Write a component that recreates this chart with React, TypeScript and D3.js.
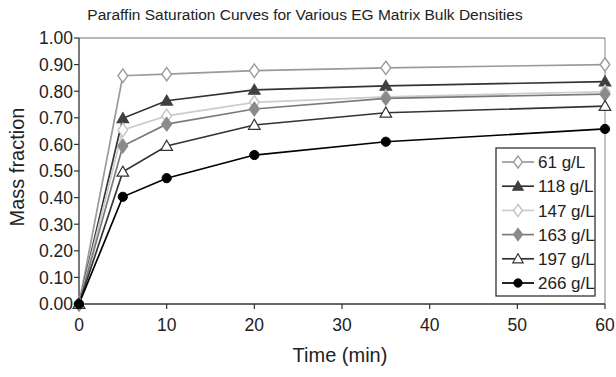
import React from "react";
import * as d3 from "d3";

const times = [0, 5, 10, 20, 35, 60];
const s61 = [0, 0.858, 0.864, 0.877, 0.888, 0.9];
const s118 = [0, 0.698, 0.764, 0.805, 0.82, 0.836];
const s147 = [0, 0.654, 0.707, 0.758, 0.779, 0.798];
const s163 = [0, 0.594, 0.676, 0.733, 0.773, 0.789];
const s197 = [0, 0.497, 0.594, 0.673, 0.719, 0.744];
const s266 = [0, 0.403, 0.473, 0.56, 0.61, 0.658];
const seriesNames = ["61 g/L", "118 g/L", "147 g/L", "163 g/L", "197 g/L", "266 g/L"];
const xTicks = [0, 10, 20, 30, 40, 50, 60];
const yTicks = [0, 0.1, 0.2, 0.3, 0.4, 0.5, 0.6, 0.7, 0.8, 0.9, 1.0];

type Style = { line: string; marker: "diamond" | "triangle" | "circle"; fill: string; stroke: string };
const styles: Style[] = [
  { line: "#9a9a9a", marker: "diamond", fill: "#ffffff", stroke: "#9a9a9a" },
  { line: "#333333", marker: "triangle", fill: "#404040", stroke: "#404040" },
  { line: "#cccccc", marker: "diamond", fill: "#ffffff", stroke: "#c4c4c4" },
  { line: "#7a7a7a", marker: "diamond", fill: "#8a8a8a", stroke: "#8a8a8a" },
  { line: "#333333", marker: "triangle", fill: "#ffffff", stroke: "#333333" },
  { line: "#000000", marker: "circle", fill: "#000000", stroke: "#000000" },
];

const W = 616, H = 377;
const L = 79, R = 605, T = 38, B = 304;
const FONT = "Liberation Sans, Arial, Helvetica, sans-serif";

function Marker({ kind, x, y, fill, stroke, scale = 1 }: { kind: string; x: number; y: number; fill: string; stroke: string; scale?: number }) {
  if (kind === "circle") {
    return <circle cx={x} cy={y} r={4.6 * scale} fill={fill} stroke={stroke} strokeWidth={1} />;
  }
  const sym = kind === "diamond" ? d3.symbolDiamond : d3.symbolTriangle;
  const size = (kind === "diamond" ? 52 : 58) * scale * scale;
  const path = d3.symbol().type(sym).size(size)() || "";
  const sx = kind === "diamond" ? 1.25 : 1;
  return (
    <path
      d={path}
      transform={`translate(${x},${y + (kind === "triangle" ? 1 : 0)}) scale(${sx},1)`}
      fill={fill}
      stroke={stroke}
      strokeWidth={1.2}
    />
  );
}

export default function App() {
  const x = d3.scaleLinear().domain([0, 60]).range([L, R]);
  const y = d3.scaleLinear().domain([0, 1]).range([B, T]);
  const data = [s61, s118, s147, s163, s197, s266];
  const line = d3
    .line<number>()
    .x((_, i) => x(times[i]))
    .y((d) => y(d));

  const legendX = 496, legendY = 148, legendW = 99, legendH = 148;
  const entryY0 = 162, entryStep = 24.2;

  return (
    <svg width={W} height={H} style={{ position: "absolute", left: 0, top: 0, background: "#fff" }} fontFamily={FONT}>
      <rect x={0} y={0} width={W} height={H} fill="#fff" />
      <text x={305} y={20} textAnchor="middle" fontSize={15.5} fill="#222">
        Paraffin Saturation Curves for Various EG Matrix Bulk Densities
      </text>
      {/* frame */}
      <line x1={L} x2={R} y1={T} y2={T} stroke="#a0a0a0" strokeWidth={1.3} />
      <line x1={R} x2={R} y1={T} y2={B} stroke="#a0a0a0" strokeWidth={1.3} />
      <line x1={L} x2={L} y1={T} y2={B} stroke="#333" strokeWidth={1.3} />
      <line x1={L} x2={R} y1={B} y2={B} stroke="#333" strokeWidth={1.3} />
      {/* y ticks */}
      {yTicks.map((t) => (
        <g key={"y" + t}>
          <line x1={L - 5} x2={L} y1={y(t)} y2={y(t)} stroke="#333" strokeWidth={1.2} />
          <text x={L - 6} y={y(t)} dy="0.36em" textAnchor="end" fontSize={17.5} fill="#222">
            {t.toFixed(2)}
          </text>
        </g>
      ))}
      {/* x ticks */}
      {xTicks.map((t) => (
        <g key={"x" + t}>
          <line x1={x(t)} x2={x(t)} y1={B} y2={B + 5} stroke="#333" strokeWidth={1.2} />
          <text x={x(t)} y={B + 27} textAnchor="middle" fontSize={17.5} fill="#222">
            {t}
          </text>
        </g>
      ))}
      <text x={340} y={362} textAnchor="middle" fontSize={20} fill="#222">
        Time (min)
      </text>
      <text transform={`translate(24,${(T + B) / 2 - 4}) rotate(-90)`} textAnchor="middle" fontSize={20} fill="#222">
        Mass fraction
      </text>
      {/* series */}
      {data.map((s, k) => (
        <path key={"l" + k} d={line(s) || ""} fill="none" stroke={styles[k].line} strokeWidth={1.7} />
      ))}
      {data.map((s, k) =>
        s.map((v, i) => (
          <Marker key={"m" + k + "-" + i} kind={styles[k].marker} x={x(times[i])} y={y(v)} fill={styles[k].fill} stroke={styles[k].stroke} />
        ))
      )}
      {/* legend */}
      <rect x={legendX} y={legendY} width={legendW} height={legendH} fill="#fff" stroke="#333" strokeWidth={1.3} />
      {seriesNames.map((n, k) => {
        const yy = entryY0 + k * entryStep;
        return (
          <g key={"lg" + k}>
            <line x1={502} x2={534} y1={yy} y2={yy} stroke={styles[k].line} strokeWidth={1.7} />
            <Marker kind={styles[k].marker} x={518} y={yy} fill={styles[k].fill} stroke={styles[k].stroke} scale={0.9} />
            <text x={538} y={yy} dy="0.36em" fontSize={17} fill="#222">
              {n}
            </text>
          </g>
        );
      })}
    </svg>
  );
}
